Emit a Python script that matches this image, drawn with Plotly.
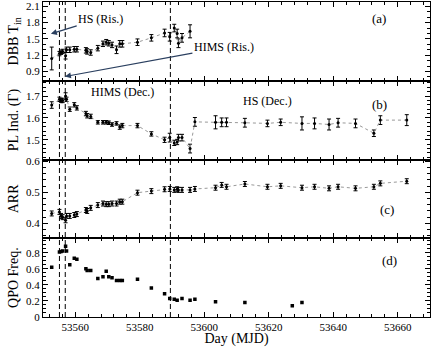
import plotly.graph_objects as go
from plotly.subplots import make_subplots

# days for panels (b) and (c); panel (a) uses the first 29
days = [53552.7, 53555.1, 53555.6, 53556.1, 53557.0, 53557.3, 53558.3, 53559.7, 53560.5,
        53563.3, 53563.7, 53564.8, 53567.0, 53568.6, 53569.6, 53570.4, 53571.4, 53572.8,
        53573.8, 53574.6, 53579.3, 53583.6, 53587.7, 53589.3, 53590.7, 53591.6, 53592.0,
        53593.1, 53595.6, 53597.1, 53603.5, 53605.4, 53606.9, 53612.6, 53619.6, 53623.7,
        53630.3, 53634.2, 53638.7, 53641.5, 53646.9, 53652.6, 53654.6, 53662.8]

tin = [1.14, 1.23, 1.255, 1.27, 1.19, 1.30, 1.30, 1.31, 1.31, 1.29, 1.27, 1.25, 1.33, 1.41,
       1.44, 1.42, 1.39, 1.30, 1.41, 1.41, 1.44, 1.52, 1.61, 1.54, 1.70, 1.60, 1.42, 1.52, 1.64]
tin_err = [0.21, 0.04, 0.04, 0.04, 0.06, 0.05, 0.05, 0.05, 0.05, 0.05, 0.05, 0.05, 0.05, 0.05,
           0.05, 0.05, 0.05, 0.07, 0.06, 0.06, 0.06, 0.06, 0.07, 0.08, 0.07, 0.08, 0.08, 0.08, 0.12]

gamma = [1.659, 1.685, 1.68, 1.68, 1.70, 1.685, 1.64, 1.66, 1.646, 1.62, 1.61, 1.607, 1.58,
         1.58, 1.58, 1.578, 1.57, 1.575, 1.558, 1.565, 1.565, 1.527, 1.50, 1.51, 1.486, 1.49,
         1.51, 1.51, 1.46, 1.582, 1.58, 1.58, 1.58, 1.578, 1.575, 1.58, 1.575, 1.575, 1.57,
         1.578, 1.575, 1.53, 1.59, 1.59]
gamma_err = [0.015, 0.01, 0.01, 0.01, 0.015, 0.01, 0.01, 0.01, 0.01, 0.01, 0.01, 0.01, 0.008,
             0.008, 0.008, 0.008, 0.008, 0.008, 0.01, 0.01, 0.01, 0.01, 0.012, 0.02, 0.012,
             0.012, 0.015, 0.015, 0.02, 0.02, 0.03, 0.02, 0.02, 0.02, 0.015, 0.015, 0.03,
             0.025, 0.025, 0.02, 0.02, 0.015, 0.02, 0.025]

arr = [0.432, 0.437, 0.424, 0.42, 0.41, 0.424, 0.424, 0.427, 0.43, 0.443, 0.44, 0.45, 0.459,
       0.464, 0.462, 0.462, 0.464, 0.464, 0.47, 0.47, 0.499, 0.504, 0.51, 0.511, 0.508, 0.51,
       0.508, 0.508, 0.508, 0.511, 0.515, 0.524, 0.518, 0.527, 0.518, 0.521, 0.515, 0.518,
       0.513, 0.518, 0.513, 0.518, 0.529, 0.536]
arr_err = [0.008] * 44

qpo_days = [53552.7, 53555.1, 53555.6, 53556.1, 53557.0, 53557.3, 53558.3, 53559.7, 53560.5,
            53563.3, 53563.7, 53564.8, 53567.0, 53568.6, 53569.6, 53570.4, 53571.4, 53572.8,
            53573.8, 53574.6, 53579.3, 53583.6, 53587.7, 53589.3, 53590.7, 53591.6, 53593.1,
            53595.6, 53597.1, 53603.5, 53612.6, 53627.3, 53630.3]
qpo = [0.62, 0.81, 0.816, 0.82, 0.88, 0.82, 0.65, 0.73, 0.72, 0.60, 0.58, 0.58, 0.48, 0.50,
       0.57, 0.50, 0.49, 0.455, 0.455, 0.455, 0.47, 0.36, 0.29, 0.23, 0.22, 0.21, 0.23, 0.21,
       0.22, 0.19, 0.18, 0.14, 0.18]

transitions = [53555.1, 53556.9, 53589.5]

serif = "Liberation Serif"

fig = make_subplots(rows=4, cols=1, shared_xaxes=True, vertical_spacing=0)

def add_panel(x, y, err, row, line=True, symbol="circle", size=3):
    fig.add_trace(go.Scatter(
        x=x, y=y, mode="lines+markers" if line else "markers",
        line=dict(color="#999", width=1, dash="dot"),
        marker=dict(color="black", size=size, symbol=symbol),
        error_y=dict(type="data", array=err, color="black", thickness=1, width=2)
        if err is not None else None,
        showlegend=False), row=row, col=1)

add_panel(days[:len(tin)], tin, tin_err, 1)
add_panel(days, gamma, gamma_err, 2)
add_panel(days, arr, arr_err, 3)
add_panel(qpo_days, qpo, None, 4, line=False, symbol="square", size=3.5)

for d in transitions:
    fig.add_shape(type="line", x0=d, x1=d, xref="x", yref="paper", y0=0, y1=1,
                  line=dict(color="black", width=1, dash="5px,3px"))

axis_common = dict(showline=True, linecolor="black", linewidth=1, mirror="allticks",
                   ticks="inside", ticklen=5, tickcolor="black", showgrid=False,
                   zeroline=False, automargin=False,
                   tickfont=dict(family=serif, size=11, color="black"))

for r in range(1, 5):
    fig.update_xaxes(range=[53550, 53670], dtick=20, tick0=53560, tickformat="d",
                     minor=dict(dtick=4, ticks="inside", ticklen=3, tickcolor="black"),
                     showticklabels=(r == 4), row=r, col=1, **axis_common)

yspecs = [
    ("DBB T<sub>in</sub>", [0.73, 2.18], 0.3, 0.1),
    ("PL Ind. (Γ)", [1.41, 1.77], 0.1, 0.02),
    ("ARR", [0.352, 0.606], 0.1, 0.02),
    ("QPO Freq.", [0, 0.98], 0.2, 0.05),
]
for r, (title, rng, dt, mdt) in enumerate(yspecs, start=1):
    fig.update_yaxes(range=rng, dtick=dt, tick0=0,
                     minor=dict(dtick=mdt, ticks="inside", ticklen=3, tickcolor="black"),
                     title=dict(text=title, font=dict(family=serif, size=14, color="black"),
                                standoff=4),
                     row=r, col=1, **axis_common)

fig.update_xaxes(title=dict(text="Day (MJD)", font=dict(family=serif, size=14, color="black"),
                            standoff=2), row=4, col=1)

txt = dict(family=serif, size=12, color="black")
fig.add_annotation(x=53552.45, y=1.594, ax=53567.9, ay=1.875, axref="x", ayref="y",
                   xref="x", yref="y", text="HS (Ris.)", showarrow=True, arrowhead=2,
                   arrowwidth=1.2, arrowsize=1, font=txt)
fig.add_annotation(x=53556.8, y=0.808, ax=53606.1, ay=1.347, axref="x", ayref="y",
                   xref="x", yref="y", text="HIMS (Ris.)", showarrow=True, arrowhead=2,
                   arrowwidth=1.2, arrowsize=1, font=txt)
fig.add_annotation(x=53574.6, y=1.72, xref="x2", yref="y2", text="HIMS (Dec.)",
                   showarrow=False, font=txt)
fig.add_annotation(x=53619.7, y=1.677, xref="x2", yref="y2", text="HS (Dec.)",
                   showarrow=False, font=txt)

labels = ["(a)", "(b)", "(c)", "(d)"]
label_pos = [(53654.3, 1.88), (53654.3, 1.66), (53656.8, 0.444), (53657.5, 0.7)]
for i, (lab, (lx, ly)) in enumerate(zip(labels, label_pos), start=1):
    sfx = "" if i == 1 else str(i)
    fig.add_annotation(x=lx, y=ly, xref="x" + sfx, yref="y" + sfx, text=lab,
                       showarrow=False, font=dict(family=serif, size=13, color="black"))

fig.update_layout(width=436, height=347, margin=dict(l=43, r=6, t=2, b=30),
                  plot_bgcolor="white", paper_bgcolor="white",
                  font=dict(family=serif, color="black"))

fig.write_html("out.html", config={"displayModeBar": False},
               post_script="document.body.style.margin='0';")
